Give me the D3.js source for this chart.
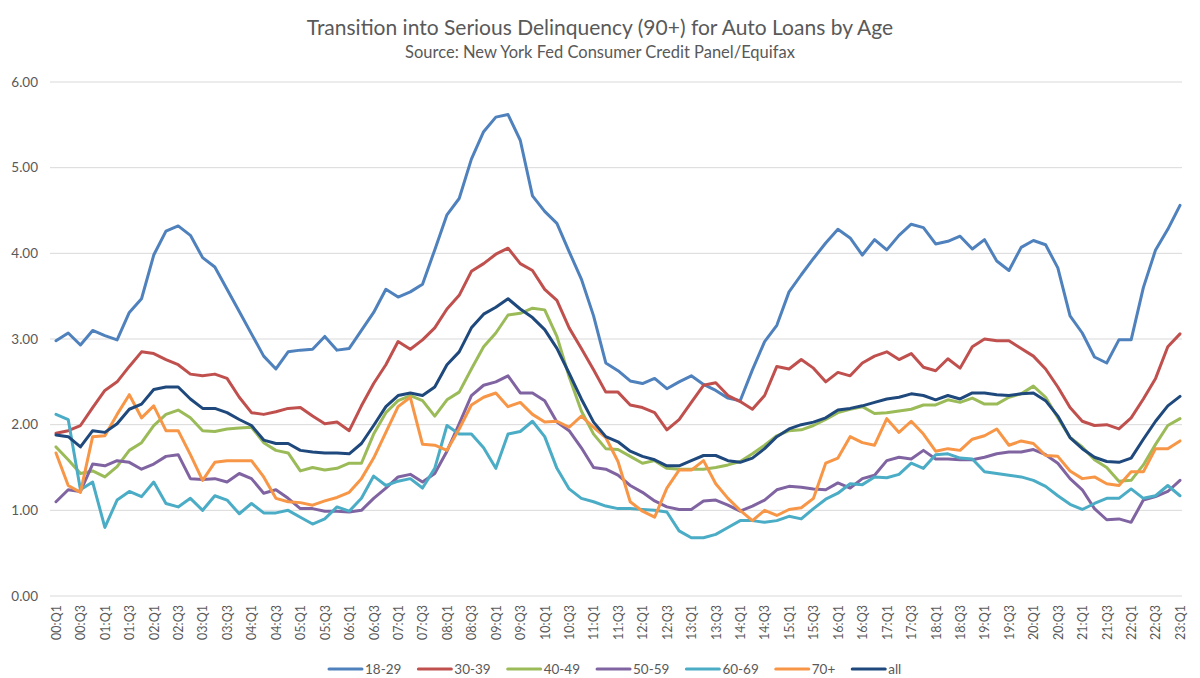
<!DOCTYPE html>
<html lang="en">
<meta charset="UTF-8">
<title>Transition into Serious Delinquency (90+) for Auto Loans by Age</title>
<script src="https://d3js.org/d3.v7.min.js"></script>
<style>
  body { margin: 0; background: #fff; }
  svg { display: block; font-family: Lato, "Open Sans", sans-serif; }
</style>
<body>
<svg width="1200" height="678"></svg>

<script>
// quarters 00:Q1 .. 23:Q1
var quarters = [];
for (var yr = 0; yr <= 23; yr++) {
  for (var q = 1; q <= 4; q++) {
    if (yr == 23 && q > 1) break;
    quarters.push((yr < 10 ? "0" : "") + yr + ":Q" + q);
  }
}

var seriesNames = ["18-29", "30-39", "40-49", "50-59", "60-69", "70+", "all"];
var colors = ["#4f81bd", "#c0504d", "#9bbb59", "#8064a2", "#4bacc6", "#f79646", "#1f497d"];
var yTicks = [0, 1, 2, 3, 4, 5, 6];

var s1829 = [2.98,3.07,2.93,3.10,3.04,2.99,3.31,3.47,3.98,4.26,4.32,4.21,3.95,3.84,3.58,3.32,3.06,2.80,2.65,2.85,2.87,2.88,3.03,2.87,
  2.89,3.10,3.31,3.58,3.49,3.55,3.64,4.04,4.45,4.64,5.10,5.42,5.59,5.62,5.32,4.67,4.49,4.35,4.02,3.70,3.27,2.72,2.63,
  2.51,2.48,2.54,2.42,2.50,2.57,2.47,2.40,2.31,2.28,2.64,2.97,3.16,3.55,3.75,3.94,4.12,4.28,4.18,3.98,4.16,4.04,4.21,
  4.34,4.30,4.11,4.14,4.20,4.05,4.16,3.91,3.80,4.07,4.15,4.10,3.83,3.27,3.07,2.79,2.72,2.99,2.99,3.60,4.04,4.28,4.56];

var s3039 = [1.90,1.93,1.99,2.20,2.40,2.50,2.68,2.85,2.83,2.76,2.70,2.59,2.57,2.59,2.54,2.32,2.14,2.12,2.15,2.19,2.20,2.10,2.01,2.03,
  1.93,2.22,2.48,2.70,2.97,2.88,2.99,3.13,3.35,3.51,3.79,3.88,3.99,4.06,3.88,3.80,3.58,3.45,3.13,2.89,2.64,2.38,2.38,
  2.23,2.20,2.14,1.94,2.06,2.26,2.46,2.49,2.34,2.27,2.18,2.34,2.68,2.65,2.76,2.66,2.50,2.61,2.57,2.72,2.80,2.85,2.76,
  2.83,2.67,2.63,2.77,2.66,2.91,3.00,2.98,2.98,2.89,2.80,2.65,2.44,2.20,2.04,1.99,2.00,1.95,2.08,2.30,2.54,2.91,3.06];

var s4049 = [1.74,1.59,1.43,1.46,1.39,1.51,1.70,1.79,1.99,2.12,2.17,2.08,1.93,1.92,1.95,1.96,1.97,1.79,1.70,1.67,1.46,1.50,1.47,1.49,
  1.55,1.55,1.89,2.14,2.28,2.34,2.28,2.10,2.29,2.38,2.65,2.91,3.07,3.28,3.30,3.36,3.34,3.03,2.56,2.16,1.89,1.72,1.71,
  1.63,1.55,1.58,1.49,1.48,1.48,1.48,1.50,1.53,1.57,1.66,1.76,1.87,1.93,1.94,1.99,2.06,2.14,2.18,2.21,2.13,2.14,2.16,
  2.18,2.23,2.23,2.29,2.26,2.31,2.24,2.24,2.32,2.36,2.45,2.32,2.08,1.85,1.74,1.59,1.50,1.34,1.35,1.53,1.77,1.99,2.07];

var s5059 = [1.10,1.24,1.22,1.54,1.52,1.58,1.56,1.48,1.54,1.63,1.65,1.37,1.36,1.37,1.33,1.43,1.37,1.20,1.24,1.14,1.02,1.02,0.99,0.99,
  0.98,1.00,1.14,1.26,1.39,1.42,1.33,1.43,1.69,2.01,2.34,2.46,2.50,2.57,2.37,2.37,2.28,2.03,1.93,1.73,1.50,1.48,1.41,
  1.29,1.21,1.11,1.04,1.01,1.01,1.11,1.12,1.06,0.99,1.05,1.12,1.24,1.28,1.27,1.25,1.24,1.32,1.26,1.37,1.41,1.58,1.62,
  1.60,1.70,1.60,1.60,1.59,1.59,1.62,1.66,1.68,1.68,1.71,1.65,1.55,1.37,1.24,1.02,0.89,0.90,0.86,1.12,1.16,1.22,1.35];

var s6069 = [2.12,2.06,1.24,1.33,0.80,1.12,1.22,1.16,1.33,1.08,1.04,1.14,1.00,1.17,1.12,0.96,1.08,0.97,0.97,1.00,0.92,0.84,0.90,1.04,
  0.99,1.14,1.40,1.29,1.34,1.37,1.26,1.49,1.99,1.89,1.89,1.73,1.49,1.89,1.92,2.04,1.86,1.49,1.25,1.14,1.10,1.05,1.02,
  1.02,1.01,1.00,0.98,0.76,0.68,0.68,0.72,0.80,0.88,0.88,0.86,0.88,0.93,0.90,1.02,1.13,1.20,1.31,1.30,1.39,1.38,1.42,
  1.55,1.49,1.65,1.66,1.61,1.60,1.45,1.43,1.41,1.39,1.35,1.28,1.17,1.07,1.01,1.08,1.14,1.14,1.25,1.14,1.17,1.29,1.17];

var s70 = [1.67,1.29,1.21,1.86,1.87,2.12,2.35,2.08,2.22,1.93,1.93,1.65,1.35,1.56,1.58,1.58,1.58,1.39,1.14,1.10,1.09,1.06,1.11,1.15,
  1.21,1.37,1.61,1.91,2.21,2.32,1.77,1.76,1.70,1.95,2.23,2.32,2.37,2.21,2.26,2.12,2.03,2.04,1.97,2.10,1.97,1.85,1.57,
  1.10,0.99,0.92,1.26,1.47,1.47,1.58,1.31,1.14,1.00,0.88,1.00,0.94,1.01,1.03,1.14,1.55,1.61,1.86,1.79,1.76,2.07,1.91,
  2.04,1.89,1.69,1.72,1.70,1.83,1.87,1.95,1.76,1.81,1.78,1.64,1.63,1.46,1.37,1.39,1.31,1.29,1.45,1.45,1.72,1.72,1.81];

var sAll = [1.88,1.86,1.74,1.93,1.91,2.01,2.18,2.24,2.41,2.44,2.44,2.30,2.19,2.19,2.14,2.06,1.99,1.82,1.78,1.78,1.70,1.68,1.67,1.67,
  1.66,1.78,1.99,2.21,2.34,2.37,2.34,2.44,2.70,2.85,3.13,3.29,3.37,3.47,3.35,3.25,3.11,2.89,2.60,2.30,2.03,1.86,1.80,
  1.69,1.63,1.59,1.52,1.52,1.58,1.64,1.64,1.58,1.56,1.61,1.72,1.86,1.95,2.00,2.03,2.08,2.17,2.19,2.22,2.26,2.30,2.32,
  2.36,2.34,2.29,2.34,2.30,2.37,2.37,2.35,2.34,2.36,2.37,2.28,2.10,1.85,1.72,1.62,1.57,1.56,1.61,1.83,2.04,2.22,2.33];

var allSeries = [s1829, s3039, s4049, s5059, s6069, s70, sAll];

var svg = d3.select("svg");
var textColor = "#595959";

var x = d3.scalePoint().domain(quarters).range([56, 1180]);
var y = d3.scaleLinear().domain([0, 6]).range([596, 82]);

// title
svg.append("text")
  .attr("x", 600).attr("y", 35)
  .attr("text-anchor", "middle")
  .style("font-size", "21px")
  .style("fill", textColor)
  .text("Transition into Serious Delinquency (90+) for Auto Loans by Age");
svg.append("text")
  .attr("x", 600).attr("y", 58)
  .attr("text-anchor", "middle")
  .style("font-size", "16.5px")
  .style("fill", textColor)
  .text("Source: New York Fed Consumer Credit Panel/Equifax");

// gridlines
svg.append("g")
  .selectAll("line")
  .data(yTicks)
  .enter()
  .append("line")
    .attr("x1", 50).attr("x2", 1182)
    .attr("y1", d => y(d)).attr("y2", d => y(d))
    .attr("stroke", "#d9d9d9")
    .attr("stroke-width", 1);

// y axis labels
var yAxis = svg.append("g")
  .attr("transform", "translate(38,0)")
  .call(d3.axisLeft(y).tickValues(yTicks).tickFormat(d3.format(".2f")).tickSize(0).tickPadding(0));
yAxis.select(".domain").remove();
yAxis.selectAll("text")
  .style("font-size", "13.5px")
  .style("font-family", "Lato, sans-serif")
  .style("fill", textColor);

// x axis labels, every other quarter
var xAxis = svg.append("g")
  .attr("transform", "translate(0,596)")
  .call(d3.axisBottom(x).tickValues(quarters.filter((d, i) => i % 2 == 0)).tickSize(0));
xAxis.select(".domain").remove();
xAxis.selectAll("text")
  .attr("transform", "rotate(-90)")
  .attr("x", -9)
  .attr("y", 0)
  .attr("dy", "0.35em")
  .attr("text-anchor", "end")
  .style("font-size", "12.5px")
  .style("font-family", "Lato, sans-serif")
  .style("fill", textColor);

// lines
var line = d3.line()
  .x((d, i) => x(quarters[i]))
  .y(d => y(d));

svg.append("g")
  .selectAll("path")
  .data(allSeries)
  .enter()
  .append("path")
    .attr("d", d => line(d))
    .attr("fill", "none")
    .attr("stroke", (d, i) => colors[i])
    .attr("stroke-width", 3)
    .attr("stroke-linejoin", "round")
    .attr("stroke-linecap", "round");

// legend
var legend = svg.append("g").attr("transform", "translate(329,669)");
var lx = 0;
seriesNames.forEach(function(name, i) {
  var item = legend.append("g").attr("transform", "translate(" + lx + ",0)");
  item.append("line")
    .attr("x1", 0).attr("x2", 33)
    .attr("stroke", colors[i])
    .attr("stroke-width", 3)
    .attr("stroke-linecap", "round");
  var t = item.append("text")
    .attr("x", 36).attr("dy", "0.35em")
    .style("font-size", "13.5px")
    .style("fill", textColor)
    .text(name);
  lx += 36 + t.node().getComputedTextLength() + 17;
});
</script>
</body>
</html>
